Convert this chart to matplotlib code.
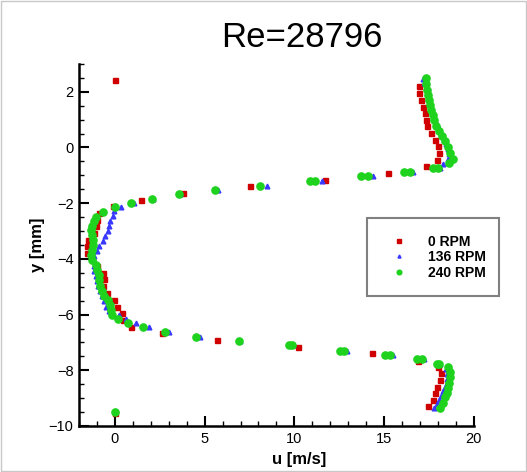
import matplotlib
matplotlib.use('Agg')
import matplotlib.pyplot as plt
from matplotlib.patches import Rectangle
from matplotlib.ticker import MultipleLocator

plt.rcParams['font.family'] = ['Liberation Sans', 'DejaVu Sans']

# 0 RPM
u0 = [0.0, 16.93, 16.96, 17.07, 17.18, 17.26, 17.32, 17.37, 17.59, 17.83, 17.98, 18.06, 17.93, 17.32,
      15.22, 11.72, 7.52, 3.77, 1.44, -0.08, -0.87, -0.98, -1.06, -1.15, -1.52, -1.56, -1.56, -1.30,
      -1.00, -0.69, -0.63, -0.65, -0.45, -0.04, 0.13, 0.37, 0.43, 0.91, 2.65, 5.70, 10.22, 14.33,
      16.87, 18.02, 18.17, 18.11, 17.93, 17.83, 17.71, 17.47, 0.0]
y0 = [2.42, 2.21, 1.95, 1.71, 1.47, 1.23, 1.00, 0.76, 0.53, 0.26, 0.04, -0.20, -0.44, -0.68,
      -0.92, -1.16, -1.39, -1.63, -1.88, -2.09, -2.34, -2.59, -2.83, -3.07, -3.32, -3.55, -3.79, -4.02,
      -4.26, -4.51, -4.73, -4.99, -5.23, -5.47, -5.71, -5.95, -6.19, -6.43, -6.67, -6.91, -7.15, -7.39,
      -7.65, -7.87, -8.11, -8.35, -8.59, -8.82, -9.06, -9.29, -9.52]

# 136 RPM
u136 = [17.19, 17.24, 17.32, 17.37, 17.46, 17.54, 17.61, 17.70, 17.80, 17.89, 17.98, 18.11, 18.24,
        18.35, 18.44, 18.54, 18.61, 18.54, 18.30, 18.12, 16.62, 14.37, 11.54, 8.46, 5.77, 3.64, 2.14,
        1.07, 0.33, -0.04, -0.13, -0.26, -0.31, -0.41, -0.56, -0.69, -0.87, -1.00, -1.15, -1.19, -1.19,
        -1.15, -1.06, -1.00, -0.93, -0.81, -0.72, -0.63, -0.50, -0.31, 0.24, 0.61, 1.17, 1.91, 3.04,
        4.74, 6.98, 9.95, 12.93, 15.52, 17.20, 18.10, 18.45, 18.52, 18.50, 18.48, 18.39, 18.30, 18.20,
        18.07, 17.93, 17.80, 0.0]
y136 = [2.47, 2.30, 2.12, 1.97, 1.79, 1.62, 1.46, 1.28, 1.10, 0.92, 0.77, 0.61, 0.43,
        0.26, 0.11, -0.07, -0.24, -0.41, -0.61, -0.73, -0.88, -1.03, -1.22, -1.37, -1.52, -1.68, -1.85,
        -2.00, -2.14, -2.29, -2.47, -2.65, -2.83, -3.01, -3.19, -3.37, -3.55, -3.73, -3.91, -4.09, -4.27,
        -4.45, -4.63, -4.81, -4.99, -5.17, -5.35, -5.53, -5.71, -5.86, -6.00, -6.15, -6.31, -6.46, -6.63,
        -6.80, -6.95, -7.10, -7.29, -7.45, -7.60, -7.76, -7.95, -8.13, -8.30, -8.47, -8.61, -8.76, -8.92,
        -9.06, -9.21, -9.36, -9.50]

# 240 RPM
u240 = [17.33, 17.35, 17.39, 17.43, 17.48, 17.56, 17.63, 17.70, 17.78, 17.89, 18.04, 18.22, 18.39,
        18.54, 18.68, 18.82, 18.61, 17.98, 17.72, 16.46, 16.13, 14.11, 13.74, 11.17, 10.85, 8.08, 5.56,
        3.58, 2.09, 0.92, 0.0, -0.66, -1.06, -1.18, -1.28, -1.33, -1.26, -1.22, -1.22, -1.26, -1.32,
        -1.26, -1.08, -0.98, -0.87, -0.87, -0.82, -0.73, -0.59, -0.41, -0.30, -0.21, -0.15, 0.19, 0.72,
        1.55, 2.80, 4.53, 6.91, 9.69, 9.87, 12.52, 12.74, 15.06, 15.33, 16.82, 17.13, 17.93, 18.06,
        18.57, 18.67, 18.67, 18.61, 18.54, 18.48, 18.39, 18.30, 18.11, 0.0]
y240 = [2.48, 2.27, 2.06, 1.88, 1.69, 1.51, 1.33, 1.15, 0.97, 0.79, 0.61, 0.43, 0.23,
        0.02, -0.18, -0.40, -0.55, -0.73, -0.73, -0.88, -0.88, -1.03, -1.03, -1.22, -1.22, -1.37, -1.52,
        -1.68, -1.85, -2.01, -2.15, -2.32, -2.48, -2.65, -2.82, -2.97, -3.14, -3.32, -3.50, -3.68, -3.86,
        -4.04, -4.22, -4.39, -4.57, -4.76, -4.96, -5.15, -5.32, -5.49, -5.67, -5.85, -6.01, -6.16, -6.31,
        -6.46, -6.63, -6.79, -6.94, -7.10, -7.10, -7.29, -7.29, -7.45, -7.45, -7.60, -7.60, -7.76, -7.76,
        -7.89, -8.07, -8.25, -8.44, -8.62, -8.80, -8.97, -9.16, -9.36, -9.50]

fig = plt.figure(figsize=(5.27, 4.72), dpi=100)
ax = fig.add_axes([0.150, 0.0975, 0.749, 0.767])

ax.plot(u0, y0, 's', color='#D00000', ms=3.6, mec='#D00000', label='0 RPM')
ax.plot(u136, y136, '^', color='#3838FF', ms=3.4, mec='#3838FF', label='136 RPM')
ax.plot(u240, y240, 'o', color='#1ED21E', ms=5.2, mec='#1ED21E', label='240 RPM')

ax.set_xlim(-2, 20)
ax.set_ylim(-10, 3)
ax.xaxis.set_major_locator(MultipleLocator(5))
ax.xaxis.set_minor_locator(MultipleLocator(1))
ax.yaxis.set_major_locator(MultipleLocator(2))
ax.yaxis.set_minor_locator(MultipleLocator(0.5))
ax.set_xticks([0, 5, 10, 15, 20])
ax.set_yticks([-10, -8, -6, -4, -2, 0, 2])

for s in ['top', 'right']:
    ax.spines[s].set_visible(False)
for s in ['left', 'bottom']:
    ax.spines[s].set_linewidth(1.8)
ax.tick_params(which='major', direction='in', length=7, width=1.5, labelsize=10.5, pad=4)
ax.tick_params(which='minor', direction='in', length=3.5, width=1)

ax.set_xlabel('u [m/s]', fontsize=12, fontweight='bold')
ax.set_ylabel('y [mm]', fontsize=12, fontweight='bold')
ax.xaxis.set_label_coords(0.557, -0.072)
ax.yaxis.set_label_coords(-0.086, 0.5)

fig.text(0.573, 0.92, 'Re=28796', fontsize=25, ha='center', va='center')

# legend box
fig.patches.append(Rectangle((0.696, 0.373), 0.251, 0.165, transform=fig.transFigure,
                             fill=False, edgecolor='#808080', linewidth=1.5))
leg = ax.legend(loc='center left', bbox_to_anchor=(0.718, 0.455), bbox_transform=fig.transFigure,
                frameon=False, prop={'weight': 'bold', 'size': 10}, handletextpad=1.5,
                labelspacing=0.1, markerscale=0.65, handlelength=1.2)

# outer frame
fig.patches.append(Rectangle((0.002, 0.002), 0.996, 0.996, transform=fig.transFigure,
                             fill=False, edgecolor='#c8c8c8', linewidth=1))

fig.savefig('out.png', dpi=100)
